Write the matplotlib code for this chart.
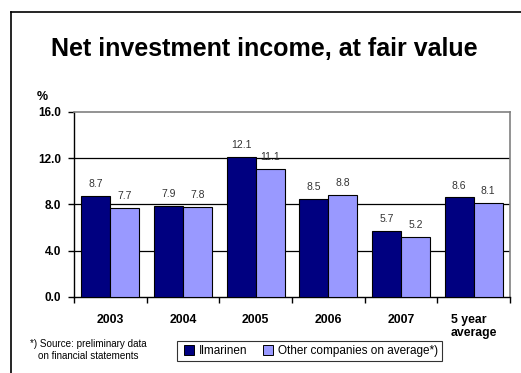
import numpy as np
import matplotlib.pyplot as plt
from matplotlib.lines import Line2D

plt.rcParams['font.family'] = ['Liberation Sans', 'DejaVu Sans']

categories = ['2003', '2004', '2005', '2006', '2007', '5 year\naverage']
ilmarinen = [8.7, 7.9, 12.1, 8.5, 5.7, 8.6]
others = [7.7, 7.8, 11.1, 8.8, 5.2, 8.1]
yticks = [0.0, 4.0, 8.0, 12.0, 16.0]
series_names = ['Ilmarinen', 'Other companies on average*)']

dark = '#000080'
light = '#9999FF'

fig = plt.figure(figsize=(5.21, 3.73), dpi=100)
ax = fig.add_axes([0.142, 0.204, 0.837, 0.496])

x = np.arange(len(categories))
w = 0.4
b1 = ax.bar(x - w / 2, ilmarinen, w, color=dark, edgecolor='black', linewidth=0.8,
            zorder=3)
b2 = ax.bar(x + w / 2, others, w, color=light, edgecolor='black', linewidth=0.8,
            zorder=3)

for bars, vals in ((b1, ilmarinen), (b2, others)):
    for r, v in zip(bars, vals):
        ax.annotate(f'{v:.1f}', (r.get_x() + r.get_width() / 2, v),
                    xytext=(0, 5), textcoords='offset points',
                    ha='center', va='bottom', fontsize=7.5, color='#333333')

ax.set_xlim(-0.5, len(categories) - 0.5)
ax.set_ylim(0, 16)
ax.set_yticks(yticks)
ax.set_yticklabels([f'{t:.1f}' for t in yticks], fontsize=8.5, fontweight='bold')
ax.set_xticks(x)
ax.set_xticklabels(categories, fontsize=8.8, fontweight='bold', multialignment='left')
ax.tick_params(axis='x', which='major', length=0, pad=12)
ax.set_xticks(np.arange(-0.5, len(categories)), minor=True)
ax.tick_params(axis='x', which='minor', length=4, direction='out', width=1)
ax.tick_params(axis='y', length=4, direction='out', width=1, pad=5)

for y in yticks[1:-1]:
    ax.axhline(y, color='black', linewidth=0.9, zorder=1)

for s in ('left', 'bottom'):
    ax.spines[s].set_color('black')
    ax.spines[s].set_linewidth(1)
for s in ('top', 'right'):
    ax.spines[s].set_color('#808080')
    ax.spines[s].set_linewidth(1.2)

fig.text(0.507, 0.868, 'Net investment income, at fair value', ha='center', va='center',
         fontsize=18, fontweight='bold')
fig.text(0.081, 0.74, '%', ha='center', va='center', fontsize=9, fontweight='bold')
fig.text(0.169, 0.062, '*) Source: preliminary data\non financial statements',
         ha='center', va='center', fontsize=7.1, multialignment='center')

# square markers for the legend, like the boxed keys of the bars
handles = [Line2D([], [], linestyle='none', marker='s', markersize=6.5,
                  markerfacecolor=c, markeredgecolor='black', markeredgewidth=0.7)
           for c in (dark, light)]
leg = fig.legend(handles, series_names, loc='center', bbox_to_anchor=(0.594, 0.058),
                 ncol=2, fontsize=8.5, frameon=True, fancybox=False, edgecolor='black',
                 handlelength=1.4, handletextpad=0.1, columnspacing=1.1,
                 borderpad=0.35)
leg.get_frame().set_linewidth(0.8)

# slide frame
fig.add_artist(Line2D([0.021, 1.0], [0.968, 0.968], color='black', linewidth=1.2))
fig.add_artist(Line2D([0.021, 0.021], [0.0, 0.968], color='black', linewidth=1.2))

fig.savefig('out.png', dpi=100)
